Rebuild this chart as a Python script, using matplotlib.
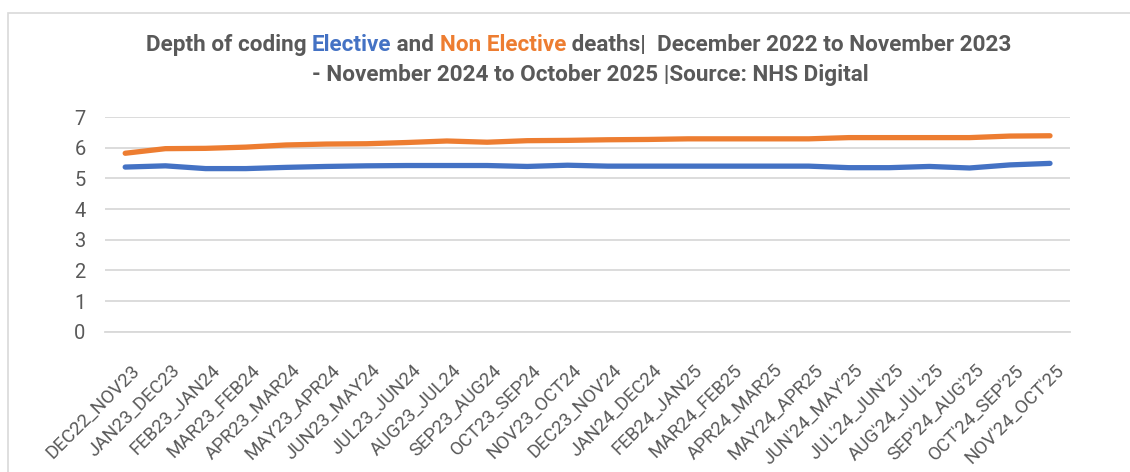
import matplotlib
matplotlib.use("Agg")
import matplotlib.pyplot as plt
import matplotlib.transforms as mtransforms
from matplotlib.patches import Rectangle
import numpy as np

periods = ["DEC22_NOV23", "JAN23_DEC23", "FEB23_JAN24", "MAR23_FEB24", "APR23_MAR24",
           "MAY23_APR24", "JUN23_MAY24", "JUL23_JUN24", "AUG23_JUL24", "SEP23_AUG24",
           "OCT23_SEP24", "NOV23_OCT24", "DEC23_NOV24", "JAN24_DEC24", "FEB24_JAN25",
           "MAR24_FEB25", "APR24_MAR25", "MAY24_APR25", "JUN'24_MAY'25", "JUL'24_JUN'25",
           "AUG'24_JUL'25", "SEP'24_AUG'25", "OCT'24_SEP'25", "NOV'24_OCT'25"]
elective = [5.37, 5.41, 5.32, 5.32, 5.36, 5.39, 5.41, 5.42, 5.42, 5.42, 5.39, 5.43,
            5.40, 5.40, 5.40, 5.40, 5.40, 5.40, 5.35, 5.35, 5.39, 5.34, 5.44, 5.49]
non_elective = [5.82, 5.97, 5.98, 6.02, 6.09, 6.12, 6.13, 6.17, 6.22, 6.18, 6.23, 6.24,
                6.26, 6.27, 6.29, 6.29, 6.29, 6.29, 6.33, 6.33, 6.33, 6.33, 6.38, 6.39]

BLUE = "#4472C4"
ORANGE = "#ED7D31"
GREY = "#595959"
GRID = "#D9D9D9"

plt.rcParams["font.family"] = ["Roboto", "DejaVu Sans"]

fig = plt.figure(figsize=(11.3, 4.72), dpi=100)
ax = fig.add_axes([0.093, 0.297, 0.854, 0.455])

x = np.arange(len(periods))
ax.plot(x, elective, color=BLUE, lw=3.8, solid_capstyle="round", label="Elective")
ax.plot(x, non_elective, color=ORANGE, lw=3.8, solid_capstyle="round", label="Non Elective")

ax.set_xlim(-0.5, len(periods) - 0.5)
ax.set_ylim(0, 7)
ax.set_yticks(range(8))
ax.grid(axis="y", color=GRID, lw=1.3)
ax.set_axisbelow(True)
for s in ["top", "right", "left"]:
    ax.spines[s].set_visible(False)
ax.spines["bottom"].set_color(GRID)
ax.spines["bottom"].set_linewidth(1.3)
ax.tick_params(length=0, colors=GREY, labelsize=14.5)
ax.tick_params(axis="y", pad=14)
ax.tick_params(axis="x", pad=21)
ax.set_xticks(x)
ax.set_xticklabels(periods, rotation=45, ha="right", rotation_mode="anchor", fontsize=13.5)
offset = mtransforms.ScaledTranslation(0.05, 0, fig.dpi_scale_trans)
for lab in ax.get_xticklabels():
    lab.set_transform(lab.get_transform() + offset)

# chart border
fig.patches.append(Rectangle((8 / 1130, -0.1), 1.2, 1 - 13 / 472 + 0.1,
                             transform=fig.transFigure, fill=False, ec=GRID, lw=1.2))

# title with coloured words, sized to the reference's line width
line1 = [("Depth of coding ", GREY), ("Elective", BLUE), (" and ", GREY),
         ("Non Elective", ORANGE), (" deaths|  December 2022 to November 2023", GREY)]
line2 = "- November 2024 to October 2025 |Source: NHS Digital"
cx = 0.512
renderer = fig.canvas.get_renderer()
texts = [fig.text(0, 0.905, s, color=c, fontsize=17, fontweight="bold", va="center")
         for s, c in line1]
total = sum(t.get_window_extent(renderer).width for t in texts)
size = 17 * 866 / total
for t in texts:
    t.set_fontsize(size)
widths = [t.get_window_extent(renderer).width / fig.bbox.width for t in texts]
start = cx - sum(widths) / 2
for t, w in zip(texts, widths):
    t.set_x(start)
    start += w
fig.text(cx + 0.01, 0.842, line2, color=GREY, fontsize=size, fontweight="bold",
         ha="center", va="center")

plt.savefig("out.png", dpi=100)
